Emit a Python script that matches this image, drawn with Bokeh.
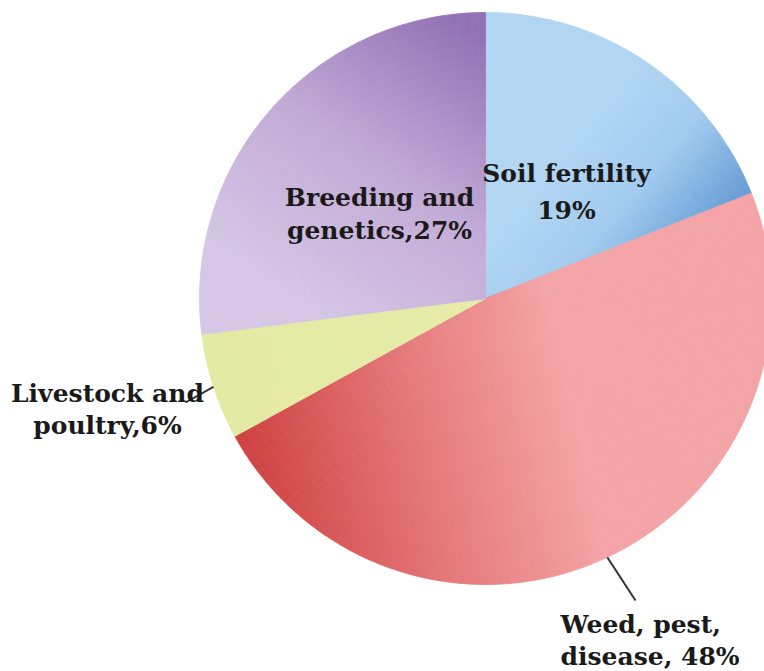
import math
from bokeh.plotting import figure
from bokeh.models import Range1d, ColumnDataSource
from bokeh.core.properties import value
from bokeh.embed import file_html
from bokeh.resources import INLINE

# ---- data ----
categories = ["Soil fertility", "Weed, pest, disease", "Livestock and poultry", "Breeding and genetics"]
shares = [19, 48, 6, 27]
label_line1 = ["Soil fertility", "Weed, pest,", "Livestock and", "Breeding and"]
label_line2 = ["19%", "disease, 48%", "poultry,6%", "genetics,27%"]

# ---- style: linear gradient per slice (image-pixel start/end points, colour stops) ----
grad = [
    ((580, 130), (705, 235), [(0.0, "#b2d6f2"), (0.5, "#a2cbef"), (1.0, "#6a9fd6")]),
    ((250, 470), (570, 400), [(0.0, "#cf4343"), (0.5, "#e47678"), (1.0, "#f4a4a6")]),
    ((200, 380), (480, 300), [(0.0, "#e3eaa3"), (1.0, "#e6eca8")]),
    ((290, 300), (470, 30),  [(0.0, "#d5c7e5"), (0.5, "#c2aad6"), (1.0, "#9272b5")]),
]

W, H = 764, 671
def Y(img_y):
    return H - img_y

cx, cy, R = 485, Y(298), 286

def hex2rgb(h):
    h = h.lstrip("#")
    return tuple(int(h[i:i+2], 16) for i in (0, 2, 4))

def interp(st, t):
    t = min(1.0, max(0.0, t))
    for (t0, c0), (t1, c1) in zip(st[:-1], st[1:]):
        if t0 <= t <= t1:
            f = 0 if t1 == t0 else (t - t0) / (t1 - t0)
            a, b = hex2rgb(c0), hex2rgb(c1)
            return "#%02x%02x%02x" % tuple(int(round(a[i] + (b[i] - a[i]) * f)) for i in range(3))
    return st[-1][1]

p = figure(width=W, height=H, output_backend="svg", toolbar_location=None,
           x_range=Range1d(0, W), y_range=Range1d(0, H), min_border=0)
p.axis.visible = False
p.grid.visible = False
p.outline_line_color = None
p.background_fill_color = "white"
p.border_fill_color = "white"

total = sum(shares)
M = 26  # radial steps
inner, outer, starts, ends, cols = [], [], [], [], []
mids = []
cum = 0.0
for i, s in enumerate(shares):
    a0 = cum / total
    a1 = (cum + s) / total
    mids.append((a0 + a1) / 2)
    (gx0, gy0), (gx1, gy1), st = grad[i]
    gdx, gdy = gx1 - gx0, gy1 - gy0
    gl2 = gdx * gdx + gdy * gdy
    N = max(4, int(round(s * 3.6 / 1.4)))
    for k in range(N):
        f0 = a0 + (a1 - a0) * k / N
        f1 = a0 + (a1 - a0) * (k + 1) / N
        fm = (f0 + f1) / 2
        for j in range(M):
            r0 = R * j / M
            r1 = R * (j + 1) / M
            rm = (r0 + r1) / 2
            ang = math.pi / 2 - 2 * math.pi * fm
            px = cx + rm * math.cos(ang)
            py_img = H - (cy + rm * math.sin(ang))
            t = ((px - gx0) * gdx + (py_img - gy0) * gdy) / gl2
            inner.append(r0)
            outer.append(r1)
            starts.append(math.pi / 2 - 2 * math.pi * f0)
            ends.append(math.pi / 2 - 2 * math.pi * f1)
            cols.append(interp(st, t))
    cum += s

src = ColumnDataSource(dict(inner=inner, outer=outer, start=starts, end=ends, color=cols))
p.annular_wedge(x=cx, y=cy, inner_radius="inner", outer_radius="outer",
                start_angle="start", end_angle="end", direction="clock",
                fill_color="color", line_color="color", line_width=0.8, source=src)

# leader lines for slices with outside labels
def edge_pt(frac):
    ang = math.pi / 2 - 2 * math.pi * frac
    return cx + R * math.cos(ang), cy + R * math.sin(ang)

x0, y0 = edge_pt(mids[2])
p.segment(x0=[x0], y0=[y0], x1=[185], y1=[Y(402)], line_color="#333333", line_width=2)
x0, y0 = edge_pt(mids[1])
p.segment(x0=[x0], y0=[y0], x1=[635], y1=[Y(600)], line_color="#333333", line_width=2)

font = value("DejaVu Serif")
lab_x = [566, 560, 107, 379]
lab_align = ["center", "left", "center", "center"]
lab_y1 = [173, 624, 393, 197]
lab_y2 = [210, 656, 425, 230]
for i in range(4):
    for txt, yy in ((label_line1[i], lab_y1[i]), (label_line2[i], lab_y2[i])):
        p.text(x=[lab_x[i]], y=[Y(yy)], text=[txt], text_font=font,
               text_font_style="bold", text_font_size="25px", text_align=lab_align[i],
               text_baseline="alphabetic", text_color="#1a1a1a")

open("out.html", "w").write(file_html(p, INLINE))
